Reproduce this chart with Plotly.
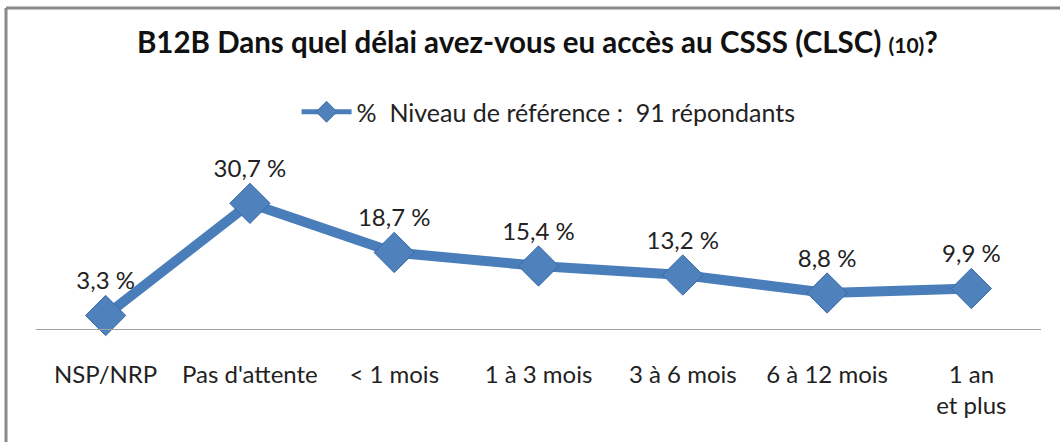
import plotly.graph_objects as go

categories = ["NSP/NRP", "Pas d'attente", "< 1 mois", "1 à 3 mois", "3 à 6 mois", "6 à 12 mois", "1 an<br>et plus"]
values = [3.3, 30.7, 18.7, 15.4, 13.2, 8.8, 9.9]
labels = ["3,3 %", "30,7 %", "18,7 %", "15,4 %", "13,2 %", "8,8 %", "9,9 %"]
series_name = "%  Niveau de référence :  91 répondants"
title = "B12B Dans quel délai avez-vous eu accès au CSSS (CLSC) <span style='font-size:21px'>(10)</span>?"

FONT = "Lato, Noto Sans, sans-serif"
W, H = 1060, 442
L, R = 36, 1041
T, B = 187, 329

fig = go.Figure()
fig.add_trace(go.Scatter(
    x=categories, y=values, mode="lines+markers+text",
    name=series_name, showlegend=False,
    text=labels, textposition="top center",
    textfont=dict(family=FONT, size=24, color="#222"),
    line=dict(color="#4A7EBB", width=10),
    marker=dict(symbol="diamond", size=31, color="#4F81BD",
                line=dict(color="#3A6AA5", width=1)),
    cliponaxis=False,
))
# legend entry (same series style, thinner as in the source legend)
fig.add_trace(go.Scatter(
    x=[None], y=[None], mode="lines+markers", name=series_name,
    line=dict(color="#4A7EBB", width=5),
    marker=dict(symbol="diamond", size=16, color="#4F81BD", line=dict(color="#3A6AA5", width=1)),
))

def px_x(p):
    return (p - L) / (R - L)

def px_y(p):
    return (B - p) / (B - T)

shapes = [
    dict(type="line", xref="paper", yref="paper", x0=px_x(6), x1=px_x(1070), y0=px_y(8), y1=px_y(8),
         line=dict(color="#8a8a8a", width=3)),
    dict(type="line", xref="paper", yref="paper", x0=px_x(6), x1=px_x(6), y0=px_y(8), y1=px_y(450),
         line=dict(color="#8a8a8a", width=3)),
]

fig.update_layout(
    width=W, height=H,
    margin=dict(l=L, r=W - R, t=T, b=H - B),
    paper_bgcolor="white", plot_bgcolor="white",
    title=dict(text=title, x=0.507, xanchor="center", y=1 - 43 / H, yanchor="middle",
               font=dict(family=FONT, size=29.5, color="#111", weight="bold")),
    showlegend=True,
    legend=dict(orientation="h", x=0.51, xanchor="center", y=px_y(112), yanchor="middle",
                font=dict(family=FONT, size=25, color="#222"),
                itemwidth=50),
    xaxis=dict(showline=True, linecolor="#a0a0a0", linewidth=1, showgrid=False, ticks="",
               tickfont=dict(family=FONT, size=24, color="#222"),
               ticklabelstandoff=24, fixedrange=True),
    yaxis=dict(range=[0, 34.7], visible=False, showgrid=False, zeroline=False, fixedrange=True),
    shapes=shapes,
)

fig.write_html("out.html", config={"displayModeBar": False},
               post_script="document.body.style.margin='0';")
